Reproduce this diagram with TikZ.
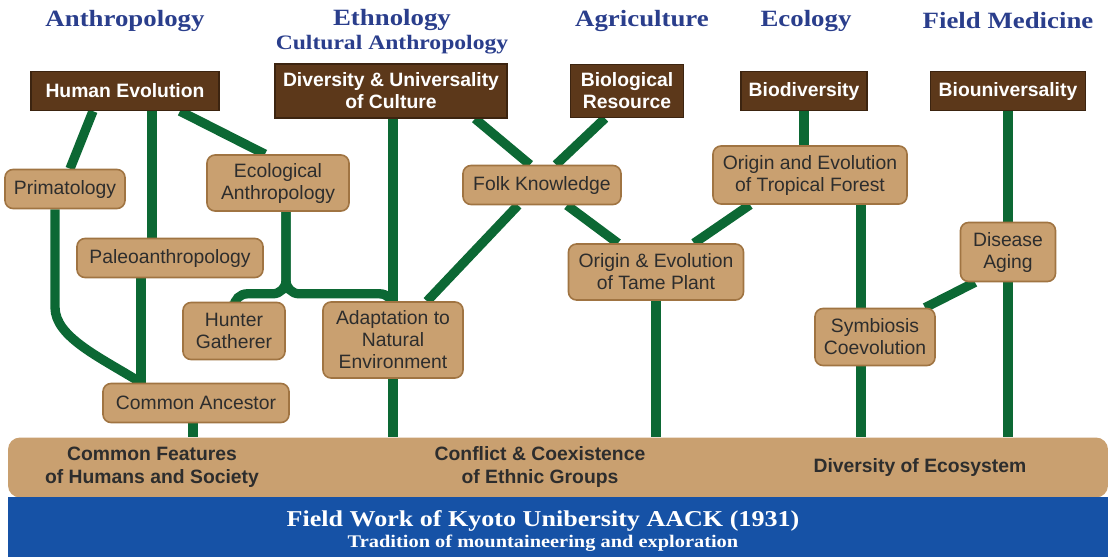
\documentclass[tikz,border=0pt]{standalone}
\usepackage{fontspec}
\newfontfamily\sansbox{Liberation Sans}
\newfontfamily\titlefont{Liberation Serif}[FakeStretch=1.15]
\usetikzlibrary{calc,backgrounds}
\definecolor{titleblue}{RGB}{42,62,140}
\definecolor{headbrown}{RGB}{92,56,26}
\definecolor{headline}{RGB}{60,36,16}
\definecolor{tanfill}{RGB}{201,160,112}
\definecolor{tanline}{RGB}{160,116,66}
\definecolor{boxtext}{RGB}{45,45,45}
\definecolor{treegreen}{RGB}{12,104,52}
\definecolor{baseblue}{RGB}{22,82,166}

\begin{document}
\begin{tikzpicture}[x=0.75pt, y=-0.75pt]
        \tikzstyle{field} = [font=\titlefont\bfseries\fontsize{17.5}{20}\selectfont, text=titleblue]
        \tikzstyle{head} = [rectangle, draw=headline, line width=1pt, fill=headbrown, text=white, font=\sansbox\bfseries\fontsize{14.5}{16.5}\selectfont, align=center, inner xsep=4pt, minimum height=29.25pt]
        \tikzstyle{topic} = [rectangle, rounded corners=6pt, draw=tanline, line width=1.2pt, fill=tanfill, text=boxtext, font=\sansbox\fontsize{14.5}{16.5}\selectfont, align=center, inner xsep=4pt, minimum height=29.25pt]
        \tikzstyle{bandtext} = [font=\sansbox\bfseries\fontsize{14.5}{17}\selectfont, text=boxtext, align=center]
        \tikzstyle{link} = [draw=treegreen, line width=7pt]

        \useasboundingbox (0,0) rectangle (1108,557);

        \node [field] (anthro) at (125,21) {Anthropology};
        \node [field] (ethno) at (392,20) {Ethnology};
        \node [field, font=\titlefont\bfseries\fontsize{15.4}{18}\selectfont] (cultural) at (392,45) {Cultural Anthropology};
        \node [field] (agri) at (642,21) {Agriculture};
        \node [field] (ecol) at (806,21) {Ecology};
        \node [field] (medic) at (1008,21) {Field Medicine};

        \node [head, minimum width=141pt] (hum) at (125,91) {Human Evolution};
        \node [head, minimum width=174pt, minimum height=40.5pt] (div) at (391,91) {Diversity \& Universality\\of Culture};
        \node [head, minimum width=85pt, minimum height=40pt] (bio) at (627,91) {Biological\\Resource};
        \node [head, minimum width=94.5pt] (biod) at (804,91) {Biodiversity};
        \node [head, minimum width=116pt] (biou) at (1008,91) {Biouniversality};

        \node [topic, minimum width=90pt] (prim) at (65,189) {Primatology};
        \node [topic, minimum width=106.5pt, minimum height=42pt] (eco) at (278,183) {Ecological\\Anthropology};
        \node [topic, minimum width=139.5pt] (pal) at (170,258) {Paleoanthropology};
        \node [topic, minimum width=76.5pt, minimum height=42.75pt] (hunt) at (234,331) {Hunter\\Gatherer};
        \node [topic, minimum width=105pt, minimum height=57pt] (adap) at (393,340) {Adaptation to\\Natural\\Environment};
        \node [topic, minimum width=139.5pt] (anc) at (196,403) {Common Ancestor};
        \node [topic, minimum width=118.5pt] (folk) at (542,185) {Folk Knowledge};
        \node [topic, minimum width=131.25pt, minimum height=42pt] (tame) at (656,272) {Origin \& Evolution\\of Tame Plant};
        \node [topic, minimum width=145.5pt, minimum height=43.5pt] (trop) at (810,175) {Origin and Evolution\\of Tropical Forest};
        \node [topic, minimum width=71.25pt, minimum height=44.25pt] (dis) at (1008,252) {Disease\\Aging};
        \node [topic, minimum width=90pt, minimum height=42.75pt] (sym) at (875,337) {Symbiosis\\Coevolution};

        \node [rectangle, rounded corners=9pt, fill=tanfill, minimum width=825pt, minimum height=45pt] (band) at (558,467.5) {};
        \node [rectangle, fill=baseblue, minimum width=825pt, minimum height=45pt, text=white, align=center] (base) at (558,527) {};
        \node [text=white, align=center, font=\titlefont\bfseries] (aack) at (543,531)
            {\fontsize{17}{19}\selectfont Field Work of Kyoto Unibersity AACK (1931)\\[2pt]
             \fontsize{13.3}{15}\selectfont Tradition of mountaineering and exploration};
        \node [bandtext] (common) at (152,467) {Common Features\\of Humans and Society};
        \node [bandtext] (conflict) at (540,467) {Conflict \& Coexistence\\of Ethnic Groups};
        \node [bandtext] (ecosys) at (920,467) {Diversity of Ecosystem};

        \begin{scope}[on background layer]
        \path [link] ($(hum.south)+(-32,0)$) -- ($(prim.north)+(5,0)$);
        \path [link] ($(hum.south)+(27,0)$) -- ($(pal.north)+(-18,0)$);
        \path [link] ($(hum.south)+(55,0)$) -- ($(eco.north)+(-13,0)$);
        \path [link] ($(prim.south)+(-10,0)$) -- ++(0,98) .. controls +(0,30) and +(-40,-25) .. ($(anc.north)+(-55,0)$);
        \path [link] ($(pal.south)+(-29,0)$) -- ($(anc.north)+(-55,0)$);
        \path [link, rounded corners=10pt] ($(eco.south)+(8,0)$) -- ++(0,82) -| (hunt.north);
        \path [link, rounded corners=10pt] ($(eco.south)+(8,0)$) -- ++(0,82) -| (adap.north);
        \path [link] (div.south -| adap.north) -- (adap.north);
        \path [link] (adap.south) -- (adap.south |- band.north);
        \path [link] ($(anc.south)+(-3,0)$) -- ($(anc.south |- band.north)+(-3,0)$);
        \path [link] ($(div.south)+(84,0)$) -- ($(folk.north)+(-12,0)$);
        \path [link] ($(bio.south)+(-22,0)$) -- ($(folk.north)+(14,0)$);
        \path [link] ($(folk.south)+(-24,0)$) -- ($(adap.north)+(34,0)$);
        \path [link] ($(folk.south)+(25,0)$) -- ($(tame.north)+(-38,0)$);
        \path [link] ($(trop.south)+(-60,0)$) -- ($(tame.north)+(38,0)$);
        \path [link] (tame.south) -- (tame.south |- band.north);
        \path [link] (biod.south) -- (biod.south |- trop.north);
        \path [link] ($(trop.south)+(51,0)$) -- ($(trop.south |- sym.north)+(51,0)$);
        \path [link] ($(sym.south)+(-14,0)$) -- ($(sym.south |- band.north)+(-14,0)$);
        \path [link] (biou) -- (dis);
        \path [link] (dis.south) -- (dis.south |- band.north);
        \path [link] ($(dis.south)+(-33,0)$) -- ($(sym.north)+(50,0)$);
        \end{scope}

\end{tikzpicture}
\end{document}
